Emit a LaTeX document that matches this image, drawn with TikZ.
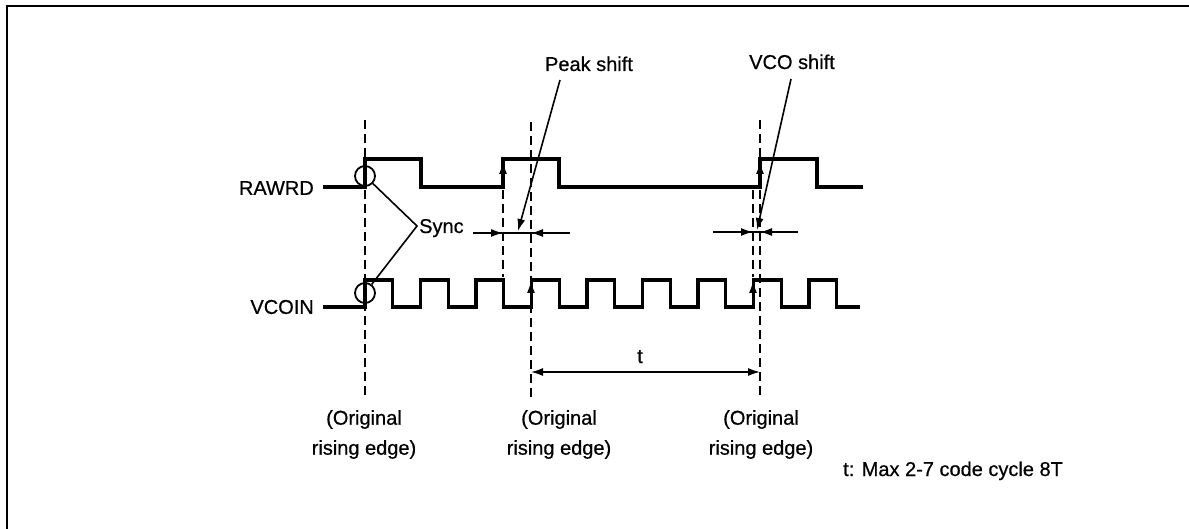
\documentclass[tikz,border=0pt]{standalone}
\usepackage{fontspec}
\setmainfont{Liberation Sans}
\newfontfamily\lblfont{Liberation Sans}[FakeBold=0.6]
\usetikzlibrary{arrows.meta}
\begin{document}
\begin{tikzpicture}[x=1pt,y=-1pt,
  wave/.style={line width=3.2pt, line join=miter},
  guide/.style={line width=2pt, dash pattern=on 9pt off 5pt},
  dim/.style={line width=1.6pt},
  tip/.style={-{Latex[length=12pt,width=8pt]}},
  twotip/.style={{Latex[length=12pt,width=8pt]}-{Latex[length=12pt,width=8pt]}},
  lbl/.style={font=\lblfont\fontsize{20}{30}\selectfont, inner sep=0pt},
  frame/.style={line width=2.8pt},
  ring/.style={circle, draw, line width=1.8pt, minimum size=20pt, inner sep=0pt}]
\useasboundingbox (0,0) rectangle (1189,529);
% frame (top and left edges)
\draw[frame] (7,529) -- (7,6) -- (1189,6);
% signal names
\node[lbl, anchor=east] (rawrd) at (314,188) {RAWRD};
\node[lbl, anchor=east] (vcoin) at (314,307) {VCOIN};
% dashed guides
\draw[guide] (365,120) -- (365,397);
\draw[guide] (531,122) -- (531,397);
\draw[guide] (760,120) -- (760,397);
\draw[guide] (503,190) -- (503,277);
\draw[guide] (753,190) -- (753,277);
% RAWRD waveform
\draw[wave] (323,187) -- (365,187) -- (365,159) -- (421,159) -- (421,187)
  -- (503,187) -- (503,159) -- (559,159) -- (559,187) -- (760,187)
  -- (760,159) -- (817,159) -- (817,187) -- (863,187);
% VCOIN waveform
\draw[wave] (323,307) -- (365,307)
  \foreach \k in {0,...,8} { -- ({365+55.5*\k},307) -- ({365+55.5*\k},280)
     -- ({392.75+55.5*\k},280) -- ({392.75+55.5*\k},307) } -- (860,307);
% edge arrows
\draw[dim, tip] (503,187) -- (503,162);
\draw[dim, tip] (531,307) -- (531,281);
\draw[dim, tip] (760,187) -- (760,162);
\draw[dim, tip] (753,307) -- (753,281);
% sync circles and label
\node[ring] (c1) at (365,176) {};
\node[ring] (c2) at (365,293) {};
\node[lbl, anchor=base west] (sync) at (419,233) {Sync};
\coordinate (sj) at (417,226);
\draw[dim] (c1) -- (sj) -- (c2);
% peak shift dimension
\coordinate (pa) at (473,233);
\coordinate (pb) at (503,233);
\coordinate (pc) at (531,233);
\coordinate (pd) at (570,233);
\draw[dim] (pa) -- (pd);
\draw[dim, tip] (pa) -- (pb);
\draw[dim, tip] (pd) -- (pc);
% vco shift dimension
\coordinate (va) at (713,232);
\coordinate (vb) at (753,232);
\coordinate (vc) at (760,232);
\coordinate (vd) at (798,232);
\draw[dim] (va) -- (vd);
\draw[dim, tip] (va) -- (vb);
\draw[dim, tip] (vd) -- (vc);
% leaders
\node[lbl, anchor=base] (peak) at (589,71) {Peak shift};
\node[lbl, anchor=base] (vco) at (792,69) {VCO shift};
\coordinate (pl0) at (560,80);
\coordinate (pl1) at (518,231);
\coordinate (vl0) at (791,79);
\coordinate (vl1) at (757,230);
\draw[dim, tip] (pl0) -- (pl1);
\draw[dim, tip] (vl0) -- (vl1);
% t dimension
\coordinate (ta) at (531,372);
\coordinate (tb) at (760,372);
\draw[dim, twotip] (ta) -- (tb);
\node[lbl, anchor=base] (tl) at (640,363) {t};
% bottom labels
\node[lbl, align=center, anchor=north] (o1) at (364,410) {(Original\\rising edge)};
\node[lbl, align=center, anchor=north] (o2) at (559,410) {(Original\\rising edge)};
\node[lbl, align=center, anchor=north] (o3) at (761,410) {(Original\\rising edge)};
\node[lbl, anchor=base west] (note) at (843,476) {t: Max 2-7 code cycle 8T};
\end{tikzpicture}
\end{document}
